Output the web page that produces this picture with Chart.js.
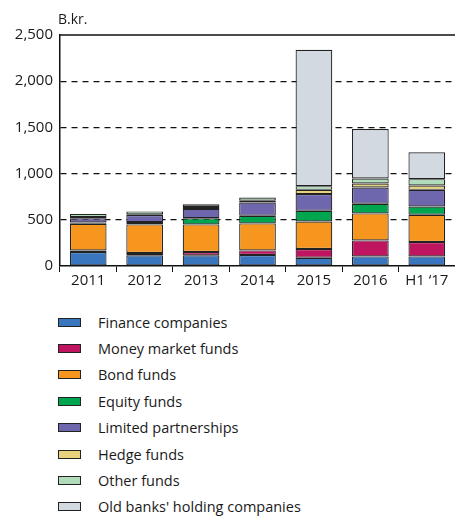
<!DOCTYPE html>
<html>
<head>
<meta charset="utf-8">
<script src="https://cdn.jsdelivr.net/npm/chart.js@4"></script>
<style>
  body { margin: 0; background: #fff; font-family: "Open Sans", sans-serif; }
  #wrap { position: relative; width: 455px; height: 290px; }
  #legend { list-style: none; margin: 0; padding: 0; position: absolute; left: 58px; top: 309px; }
  #legend li { height: 26.4px; display: flex; align-items: center; font-size: 14.5px; color: #1a1a1a; }
  #legend span.box { display: inline-block; width: 21px; height: 7px; border: 1px solid #222; margin-right: 17px; }
</style>
</head>
<body>
<div id="wrap"><canvas id="myChart"></canvas></div>
<ul id="legend"></ul>
<script>
// categories and series (B.kr.)
const years = ['2011', '2012', '2013', '2014', '2015', '2016', 'H1 \u201817'];
const finance = [151, 115, 115, 119, 90, 104, 104];
const moneyMarket = [16, 25, 36, 50, 94, 173, 155];
const bondFunds = [290, 310, 299, 292, 298, 292, 295];
const equityFunds = [15, 25, 67, 83, 116, 104, 90];
const limitedPartnerships = [45, 76, 101, 144, 180, 177, 180];
const hedgeFunds = [12, 8, 21, 18, 46, 43, 47];
const otherFunds = [35, 32, 30, 36, 40, 54, 69];
const oldBanks = [null, null, null, null, 1476, 536, 291];
const yTicks = [0, 500, 1000, 1500, 2000, 2500];

const series = [
    { label: 'Finance companies', data: finance, color: '#3a76be' },
    { label: 'Money market funds', data: moneyMarket, color: '#bf1560' },
    { label: 'Bond funds', data: bondFunds, color: '#f7961e' },
    { label: 'Equity funds', data: equityFunds, color: '#00a550' },
    { label: 'Limited partnerships', data: limitedPartnerships, color: '#6f67ae' },
    { label: 'Hedge funds', data: hedgeFunds, color: '#e8d27e' },
    { label: 'Other funds', data: otherFunds, color: '#b1dcb9' },
    { label: "Old banks' holding companies", data: oldBanks, color: '#d3d9e1' }
];

// solid top frame line + unit label
const extras = {
    id: 'extras',
    afterDraw(chart) {
        const { ctx, chartArea } = chart;
        ctx.save();
        ctx.strokeStyle = '#111';
        ctx.lineWidth = 1.5;
        ctx.beginPath();
        ctx.moveTo(chartArea.left, chartArea.top);
        ctx.lineTo(chartArea.right, chartArea.top);
        ctx.stroke();
        ctx.fillStyle = '#1a1a1a';
        ctx.font = '14px "Open Sans"';
        ctx.textBaseline = 'bottom';
        ctx.fillText('B.kr.', chartArea.left - 2, chartArea.top - 8);
        ctx.restore();
    }
};

const chart = new Chart(document.getElementById('myChart'), {
    type: 'bar',
    data: {
        labels: years,
        datasets: series.map(s => ({
            label: s.label,
            data: s.data,
            backgroundColor: s.color,
            borderColor: '#222',
            borderWidth: 1.2,
            borderSkipped: false,
            barPercentage: 0.65,
            categoryPercentage: 1
        }))
    },
    options: {
        responsive: true,
        maintainAspectRatio: false,
        animation: false,
        layout: { padding: { top: 35, right: 0, left: 0, bottom: 0 } },
        plugins: { legend: { display: false }, tooltip: { enabled: false } },
        scales: {
            x: {
                stacked: true,
                grid: { drawOnChartArea: false, offset: true, tickLength: 6, color: '#111', tickColor: '#111' },
                border: { color: '#111', width: 1.5 },
                ticks: { color: '#1a1a1a', font: { family: 'Open Sans', size: 15 }, padding: 0 }
            },
            y: {
                stacked: true,
                min: 0,
                max: 2500,
                afterBuildTicks: scale => { scale.ticks = yTicks.map(v => ({ value: v })); },
                afterFit: scale => { scale.width = 60; },
                grid: {
                    drawTicks: false,
                    color: c => (c.tick.value === 0 || c.tick.value === 2500) ? 'rgba(0,0,0,0)' : '#111',
                    lineWidth: 1.2
                },
                border: { color: '#111', width: 1.5, dash: [6, 5] },
                ticks: {
                    color: '#1a1a1a',
                    font: { family: 'Open Sans', size: 15 },
                    padding: 7,
                    callback: v => v.toLocaleString('en-US')
                }
            }
        }
    },
    plugins: [extras]
});

// legend below the chart
const legend = document.getElementById('legend');
chart.data.datasets.forEach(ds => {
    const li = document.createElement('li');
    const box = document.createElement('span');
    box.className = 'box';
    box.style.background = ds.backgroundColor;
    li.appendChild(box);
    li.appendChild(document.createTextNode(ds.label));
    legend.appendChild(li);
});
</script>
</body>
</html>
